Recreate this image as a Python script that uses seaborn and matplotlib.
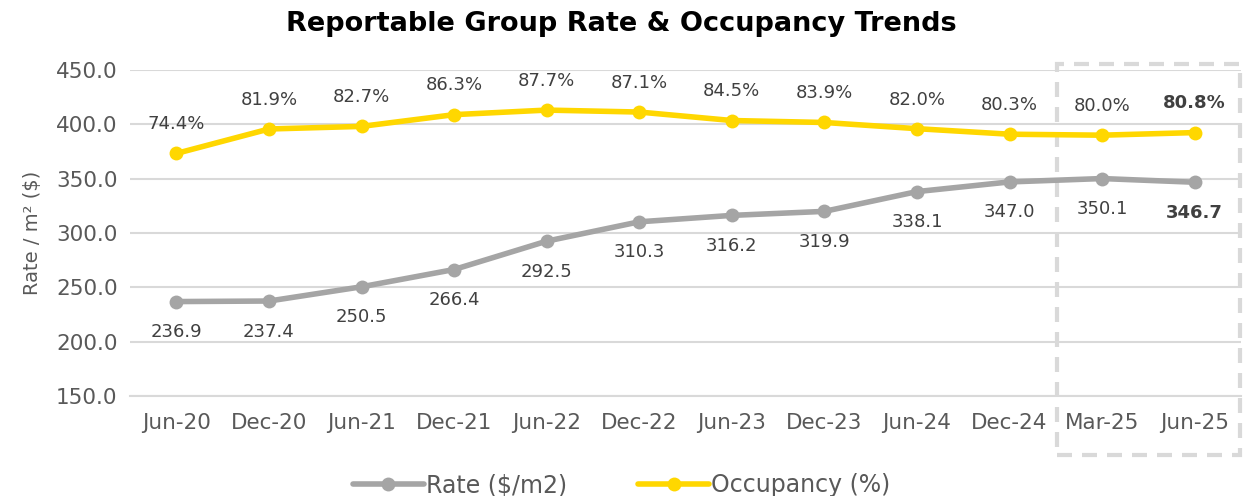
import numpy as np
import pandas as pd
import matplotlib
matplotlib.use('Agg')
import matplotlib.pyplot as plt
import seaborn as sns
from matplotlib.patches import Rectangle

periods = ['Jun-20', 'Dec-20', 'Jun-21', 'Dec-21', 'Jun-22', 'Dec-22',
           'Jun-23', 'Dec-23', 'Jun-24', 'Dec-24', 'Mar-25', 'Jun-25']
rate = [236.9, 237.4, 250.5, 266.4, 292.5, 310.3,
        316.2, 319.9, 338.1, 347.0, 350.1, 346.7]
occupancy = [74.4, 81.9, 82.7, 86.3, 87.7, 87.1,
             84.5, 83.9, 82.0, 80.3, 80.0, 80.8]
y_ticks = [150, 200, 250, 300, 350, 400, 450]

GREY = '#A5A5A5'
YELLOW = '#FFD700'
TEXT = '#595959'
LABEL = '#404040'
GRID = '#D9D9D9'

def make_plot():
    sns.set_style('white')
    plt.rcParams['font.family'] = ['DejaVu Sans']

    df = pd.DataFrame({'x': np.arange(len(periods)),
                       'Rate ($/m2)': rate,
                       'Occupancy (%)': occupancy})

    fig = plt.figure(figsize=(12.51, 4.96), dpi=100)
    ax = fig.add_axes([0.104, 0.2016, 0.888, 0.6573])
    ax2 = ax.twinx()

    sns.lineplot(data=df, x='x', y='Rate ($/m2)', ax=ax, color=GREY,
                 linewidth=4, marker='o', markersize=10, markeredgewidth=0,
                 label='Rate ($/m2)', legend=False)
    sns.lineplot(data=df, x='x', y='Occupancy (%)', ax=ax2, color=YELLOW,
                 linewidth=4, marker='o', markersize=10, markeredgewidth=0,
                 label='Occupancy (%)', legend=False)

    ax.set_xlim(-0.5, len(periods) - 0.5)
    ax.set_ylim(150, 450)
    ax2.set_ylim(0, 100)
    ax2.set_yticks([])
    ax2.set_ylabel('')
    for a in (ax, ax2):
        for s in a.spines.values():
            s.set_visible(False)

    ax.set_yticks(y_ticks)
    ax.set_yticklabels([f'{v:.1f}' for v in y_ticks], fontsize=15.5, color=TEXT)
    ax.set_xticks(np.arange(len(periods)))
    ax.set_xticklabels(periods, fontsize=15.5, color=TEXT)
    ax.set_xticks(np.arange(len(periods) + 1) - 0.5, minor=True)
    ax.tick_params(axis='x', which='major', length=0, pad=12)
    ax.tick_params(axis='x', which='minor', length=6, color=GRID, width=1.5)
    ax.tick_params(axis='y', length=0, pad=9)
    ax.set_xlabel('')
    ax.set_ylabel('Rate / m² ($)', fontsize=14, color=TEXT, labelpad=10)
    ax.yaxis.grid(True, color=GRID, linewidth=1.5)
    ax.set_axisbelow(True)
    ax.spines['bottom'].set_visible(True)
    ax.spines['bottom'].set_color(GRID)
    ax.spines['bottom'].set_linewidth(1.5)

    last = len(periods) - 1
    for i, v in enumerate(rate):
        ax.annotate(f'{v:.1f}', (i, v), xytext=(0, -22), textcoords='offset points',
                    ha='center', va='center', fontsize=13, color=LABEL,
                    fontweight='bold' if i == last else 'normal')
    for i, v in enumerate(occupancy):
        ax2.annotate(f'{v:.1f}%', (i, v), xytext=(0, 21), textcoords='offset points',
                     ha='center', va='center', fontsize=13, color=LABEL,
                     fontweight='bold' if i == last else 'normal')

    box = Rectangle((0.834, -0.181), 0.165, 1.199, transform=ax.transAxes,
                    fill=False, edgecolor=GRID, linewidth=3, linestyle=(0, (3.6, 2.4)),
                    clip_on=False)
    ax.add_patch(box)

    fig.suptitle('Reportable Group Rate & Occupancy Trends', x=0.497, y=0.978,
                 fontsize=19.5, fontweight='bold', color='black')

    h1, l1 = ax.get_legend_handles_labels()
    h2, l2 = ax2.get_legend_handles_labels()
    fig.legend(h1 + h2, l1 + l2, loc='lower center', bbox_to_anchor=(0.497, -0.045),
               ncol=2, frameon=False, fontsize=17, labelcolor=TEXT,
               handlelength=3, handletextpad=0.1, columnspacing=3)

    fig.savefig('out.png', dpi=100)

if __name__ == '__main__':
    make_plot()
